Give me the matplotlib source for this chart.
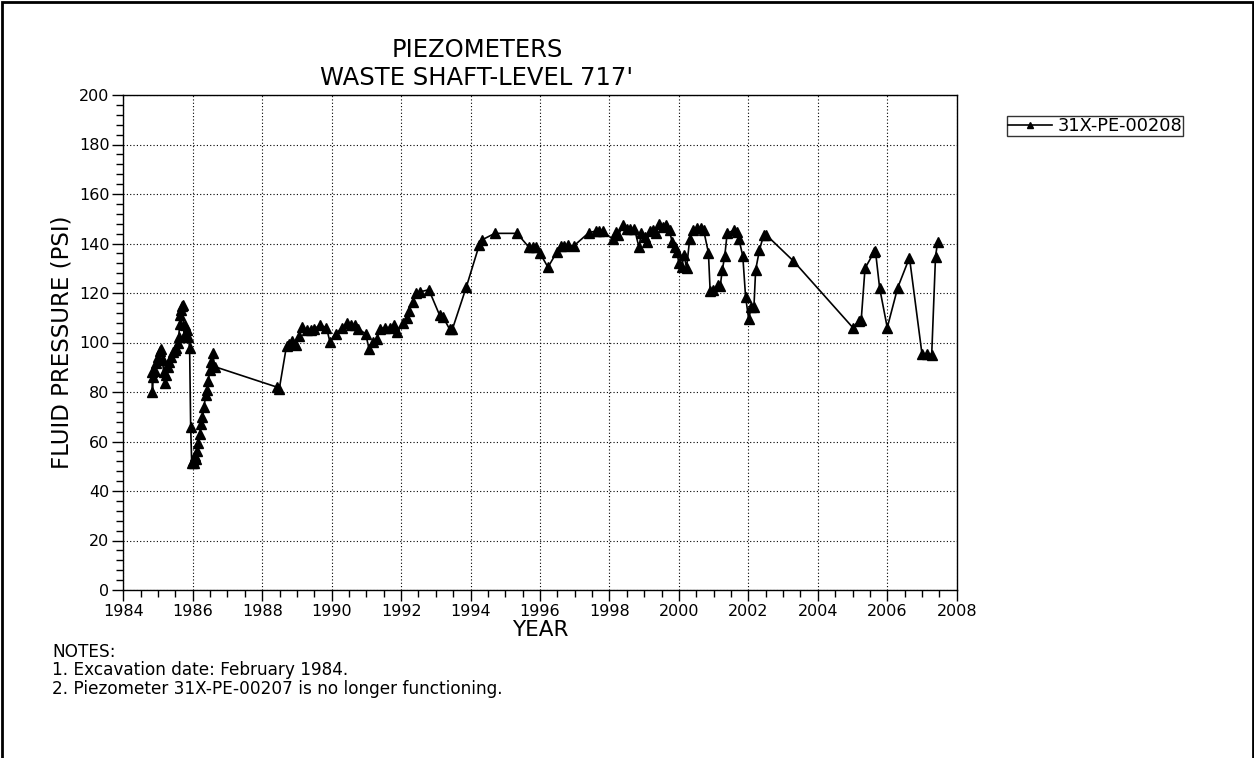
import matplotlib
matplotlib.use("Agg")
import matplotlib.pyplot as plt
from matplotlib.patches import Rectangle
from matplotlib.ticker import MultipleLocator

# piezometer readings: decimal year and fluid pressure (psi)
years = [
    1984.82, 1984.84, 1984.86, 1984.90, 1984.95, 1985.00, 1985.05, 1985.10,
    1985.13, 1985.16, 1985.20, 1985.24, 1985.28, 1985.33, 1985.38, 1985.43,
    1985.49, 1985.53, 1985.57, 1985.60, 1985.62, 1985.64, 1985.66, 1985.68,
    1985.71, 1985.75, 1985.79, 1985.83, 1985.87, 1985.91, 1985.94, 1985.97,
    1986.00, 1986.03, 1986.06, 1986.10, 1986.13, 1986.16, 1986.20, 1986.24,
    1986.28, 1986.32, 1986.38, 1986.42, 1986.45, 1986.49, 1986.53, 1986.57,
    1986.64,
    1988.42, 1988.49, 1988.70, 1988.78, 1988.85, 1988.97, 1989.07, 1989.16,
    1989.28, 1989.40, 1989.50, 1989.66, 1989.85, 1989.95, 1990.12, 1990.30,
    1990.43, 1990.55, 1990.67, 1990.76, 1990.98, 1991.08, 1991.18, 1991.31,
    1991.39, 1991.53, 1991.67, 1991.79, 1991.89, 1992.05, 1992.16, 1992.23,
    1992.33, 1992.42, 1992.55, 1992.80, 1993.11, 1993.20, 1993.40, 1993.48,
    1993.88, 1994.25, 1994.32, 1994.70, 1995.34, 1995.68, 1995.80, 1995.89,
    1995.99, 1996.23, 1996.49, 1996.60, 1996.70, 1996.80, 1996.97, 1997.41,
    1997.60, 1997.70, 1997.80, 1998.10, 1998.18, 1998.26, 1998.39, 1998.50,
    1998.60, 1998.72, 1998.85, 1998.92, 1999.02, 1999.08, 1999.16, 1999.25,
    1999.33, 1999.42, 1999.53, 1999.62, 1999.73, 1999.80, 1999.88, 1999.94,
    2000.00, 2000.08, 2000.15, 2000.22, 2000.31, 2000.42, 2000.52, 2000.64,
    2000.71, 2000.85, 2000.90, 2000.99, 2001.12, 2001.19, 2001.25, 2001.32,
    2001.39, 2001.60, 2001.67, 2001.73, 2001.84, 2001.92, 2002.01, 2002.08,
    2002.16, 2002.21, 2002.32, 2002.44, 2002.52, 2003.30,
    2005.01, 2005.18, 2005.25, 2005.36, 2005.62, 2005.66, 2005.78, 2006.00,
    2006.30, 2006.64, 2007.00, 2007.15, 2007.28, 2007.39, 2007.45,
]
pressure = [
    88.2, 80.1, 86.0, 88.5, 91.6, 94.3, 96.5, 97.3,
    93.0, 88.2, 83.5, 86.8, 90.0, 92.0, 94.3, 96.0,
    97.0, 97.6, 99.6, 102.4, 107.5, 111.0, 113.0, 114.7,
    115.1, 102.4, 107.0, 105.0, 102.4, 97.7, 66.0, 51.2,
    52.0, 51.5, 54.0, 53.0, 56.0, 59.3, 63.0, 67.0,
    70.0, 74.0, 78.8, 81.0, 84.5, 88.9, 92.0, 95.6,
    90.2,
    82.0, 81.1, 98.6, 99.5, 100.7, 99.0, 102.6, 106.4,
    105.0, 105.0, 105.5, 107.0, 106.0, 100.3, 103.5, 106.0,
    107.7, 107.0, 107.0, 105.6, 103.5, 97.2, 100.3, 101.4,
    105.6, 106.0, 106.0, 107.0, 104.4, 108.0, 110.0, 112.6,
    116.5, 120.0, 120.5, 121.3, 111.0, 110.5, 105.3, 105.5,
    122.5, 139.4, 141.4, 144.1, 144.1, 138.5, 138.5, 138.5,
    136.3, 130.4, 136.7, 139.0, 139.0, 139.2, 139.0, 144.4,
    145.0, 145.0, 145.0, 141.7, 144.7, 143.3, 147.5, 146.0,
    146.0, 146.0, 138.5, 144.4, 142.5, 140.7, 145.0, 145.5,
    144.4, 147.9, 146.5, 147.5, 145.5, 140.7, 138.7, 136.7,
    132.0, 130.6, 135.4, 130.0, 141.7, 145.5, 146.3, 146.3,
    145.5, 136.3, 120.8, 121.2, 123.2, 122.8, 129.3, 134.9,
    144.1, 145.5, 144.8, 141.7, 134.9, 118.5, 109.4, 114.2,
    114.2, 129.3, 137.4, 143.4, 143.4, 132.9,
    106.0, 108.8, 109.1, 130.0, 136.5, 137.0, 122.1, 106.0,
    122.1, 134.3, 95.4, 95.4, 95.0, 134.7, 140.5,
]
series_name = "31X-PE-00208"
notes = [
    "NOTES:",
    "1. Excavation date: February 1984.",
    "2. Piezometer 31X-PE-00207 is no longer functioning.",
]

plt.rcParams["font.family"] = "DejaVu Sans"

W, H = 1254, 758
fig = plt.figure(figsize=(W / 100, H / 100), dpi=100)
ax = fig.add_axes([123.3 / W, 1 - 590 / H, (956.7 - 123.3) / W, (590 - 95) / H])

ax.plot(years, pressure, color="black", linewidth=1.2, marker="^",
        markersize=6.5, markerfacecolor="black", markeredgecolor="black",
        label=series_name)

ax.set_xlim(1984, 2008)
ax.set_ylim(0, 200)
ax.xaxis.set_major_locator(MultipleLocator(2))
ax.xaxis.set_minor_locator(MultipleLocator(0.5))
ax.yaxis.set_major_locator(MultipleLocator(20))
ax.yaxis.set_minor_locator(MultipleLocator(4))
ax.tick_params(which="both", direction="out", width=1, colors="black",
               labelsize=11.5)
ax.tick_params(which="major", length=8, pad=2)
ax.tick_params(which="minor", length=5)
ax.grid(which="major", color="black", linestyle=(0, (1, 2)), linewidth=0.8)
for s in ax.spines.values():
    s.set_linewidth(1)
    s.set_color("black")

ax.set_xlabel("YEAR", fontsize=15.5, va="center")
ax.xaxis.set_label_coords(0.5, (590 - 630) / 495)
ax.set_ylabel("FLUID PRESSURE (PSI)", fontsize=16.5, va="center")
ax.yaxis.set_label_coords((62 - 123.3) / 833.4, 0.5)

fig.text(477 / W, 1 - 50 / H, "PIEZOMETERS", ha="center", va="center",
         fontsize=17.5)
fig.text(477 / W, 1 - 78 / H, "WASTE SHAFT-LEVEL 717'", ha="center",
         va="center", fontsize=17.5)

leg = ax.legend(loc="upper left", bbox_to_anchor=(1006.7 / W, 1 - 116 / H),
                bbox_transform=fig.transFigure, fontsize=12.8, frameon=True,
                fancybox=False, shadow=False, borderaxespad=0, borderpad=0.05,
                handlelength=2.5, handletextpad=0.3, markerscale=0.75)
leg.get_frame().set_edgecolor("black")
leg.get_frame().set_linewidth(1)

for i, line in enumerate(notes):
    fig.text(52 / W, 1 - (652 + 18.3 * i) / H, line, ha="left", va="center",
             fontsize=12.2)

# page border (bottom edge runs off the page)
fig.add_artist(Rectangle((2 / W, -0.1), (1252.5 - 2) / W, 1.1 - 2 / H,
                         transform=fig.transFigure, fill=False,
                         edgecolor="black", linewidth=2))

fig.savefig("out.png", dpi=100)
